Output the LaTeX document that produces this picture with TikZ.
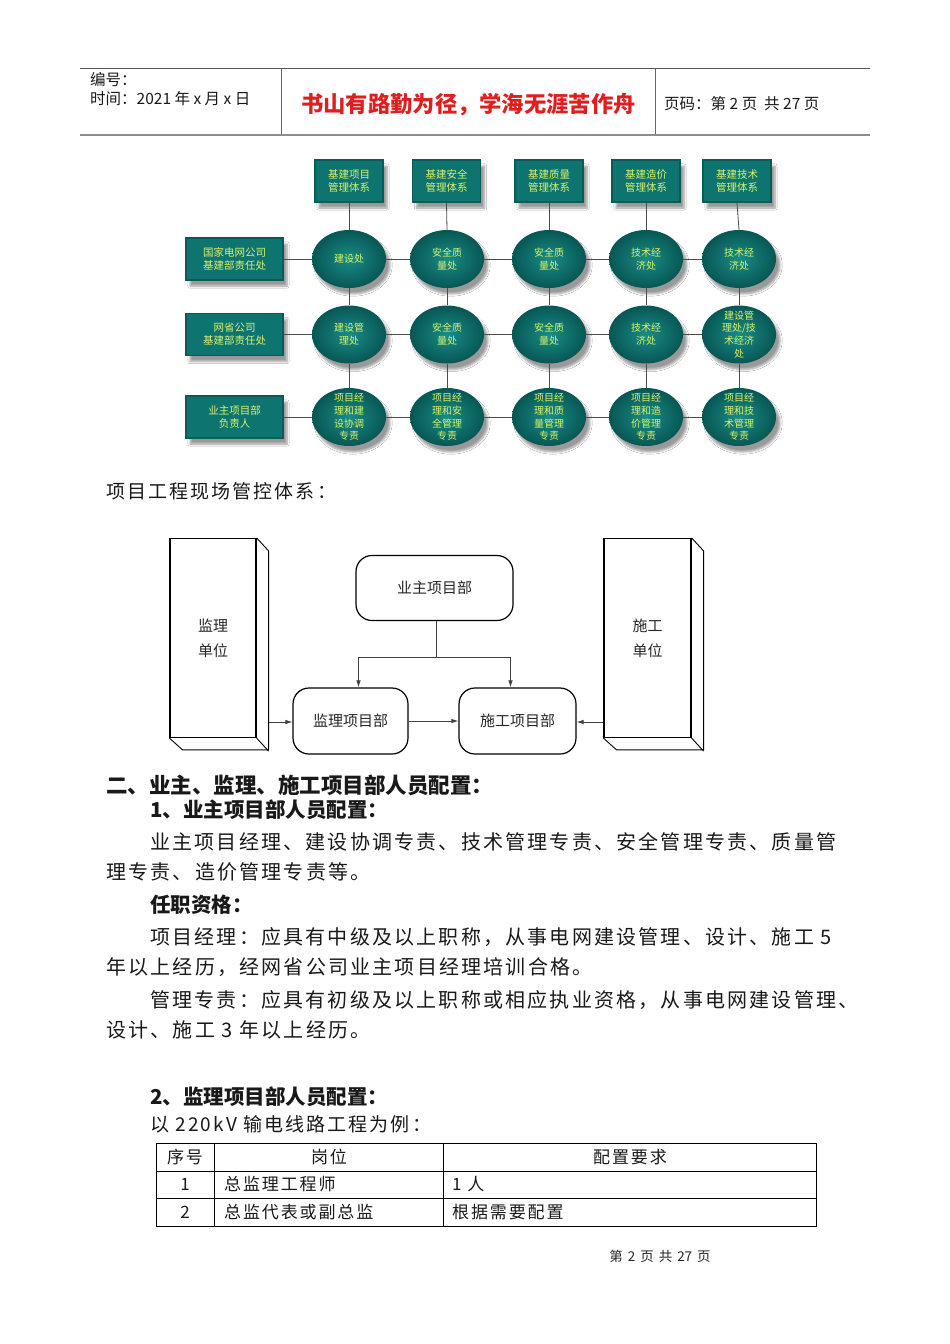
\documentclass[tikz,border=0pt]{standalone}
\usepackage{fontspec}
\setmainfont{Noto Sans CJK SC}
\newfontfamily\spc[LetterSpace=11]{Noto Sans CJK SC}
\usetikzlibrary{shapes.geometric,arrows.meta,shadows.blur,calc}
\definecolor{tealA}{HTML}{0E7470}
\definecolor{tealB}{HTML}{0A5A57}
\definecolor{tealC}{HTML}{1A8C86}
\definecolor{tealD}{HTML}{075754}
\definecolor{ylw}{HTML}{D9F36A}
\definecolor{slogan}{HTML}{E01E1E}
\newcommand\myfs[2]{\fontsize{#1}{#2}\selectfont}
\tikzset{
  shd/.style={blur shadow={shadow xshift=4pt, shadow yshift=-6pt, shadow blur steps=6, shadow opacity=40}},
  tealbox/.style={rectangle, fill=tealA, draw=tealB, line width=1.5pt, text=ylw, align=center,
    font=\myfs{10.5}{13}, minimum width=68pt, minimum height=42pt, inner sep=1pt, shd},
  leftbox/.style={tealbox, minimum width=97pt},
  ball/.style={ellipse, minimum width=74pt, minimum height=58pt, inner sep=0pt, shading=radial,
    inner color=tealC, outer color=tealD, shd},
  balltext/.style={text=ylw, align=center, font=\myfs{10}{12.8}, inner sep=0pt},
  conn/.style={draw=black!70, line width=0.8pt},
  rbox/.style={draw=black, line width=1.2pt, rounded corners=16pt, font=\myfs{15}{15}, text=black!85},
  box3d/.style={draw=black, line width=1.2pt, minimum width=86pt, minimum height=199pt,
    align=center, font=\myfs{15}{25}, text=black!85, inner sep=0pt},
  line3d/.style={draw=black, line width=0.9pt},
  arr/.style={draw=black!75, line width=0.8pt, -{Latex[length=7pt,width=4.5pt]}},
  txt/.style={anchor=west, inner sep=0pt, text=black!90},
  body/.style={txt, font=\spc\myfs{20}{20}},
  head/.style={txt, font=\bfseries\myfs{20.5}{20.5}},
  cell/.style={inner sep=0pt, text=black!90, font=\spc\myfs{17}{17}},
}
\begin{document}
\begin{tikzpicture}[x=1pt,y=-1pt]
\useasboundingbox[fill=white] (0,0) rectangle (950,1344);

% ---------- header ----------
\draw[black!65, line width=0.8pt] (80,68.5) -- (870,68.5);
\draw[black!45, line width=2pt] (80,135) -- (870,135);
\draw[black!60, line width=0.8pt] (281.5,68.5) -- (281.5,134);
\draw[black!60, line width=0.8pt] (655,68.5) -- (655,134);
\node[txt, font=\myfs{15.5}{15.5}] (hno) at (90,80) {编号：};
\node[txt, font=\myfs{15.5}{15.5}] (htime) at (90,98.5) {时间：2021 年 x 月 x 日};
\node[inner sep=0pt, text=slogan, font=\bfseries\myfs{22.3}{22.3}] (hslog) at (468.5,105) {书山有路勤为径，学海无涯苦作舟};
\node[txt, font=\myfs{15.5}{15.5}] (hpage) at (664,103.5) {页码：第 2 页\ \ 共 27 页};

% ---------- top teal diagram ----------
\foreach \x/\n/\t in {349/t1/{基建项目\\管理体系},446.5/t2/{基建安全\\管理体系},549/t3/{基建质量\\管理体系},646/t4/{基建造价\\管理体系},737/t5/{基建技术\\管理体系}}
  \node[tealbox] (\n) at (\x,181) {\t};
\node[leftbox] (l1) at (234.5,259) {国家电网公司\\基建部责任处};
\node[leftbox] (l2) at (234.5,334.5) {网省公司\\基建部责任处};
\node[leftbox] (l3) at (234.5,417) {业主项目部\\负责人};

\foreach \x/\n/\t in {349/a1/{建设处},447/a2/{安全质\\量处},549/a3/{安全质\\量处},646/a4/{技术经\\济处},739/a5/{技术经\\济处}}
  \node[ball, label={[balltext]center:\t}] (\n) at (\x,259) {};
\foreach \x/\n/\t in {349/b1/{建设管\\理处},447/b2/{安全质\\量处},549/b3/{安全质\\量处},646/b4/{技术经\\济处},739/b5/{建设管\\理处/技\\术经济\\处}}
  \node[ball, label={[balltext]center:\t}] (\n) at (\x,334.5) {};
\foreach \x/\n/\t in {349/c1/{项目经\\理和建\\设协调\\专责},447/c2/{项目经\\理和安\\全管理\\专责},549/c3/{项目经\\理和质\\量管理\\专责},646/c4/{项目经\\理和造\\价管理\\专责},739/c5/{项目经\\理和技\\术管理\\专责}}
  \node[ball, label={[balltext]center:\t}] (\n) at (\x,417) {};

\foreach \i in {1,...,5} {
  \draw[conn] (t\i.south) -- (a\i.north);
  \draw[conn] (a\i.south) -- (b\i.north);
  \draw[conn] (b\i.south) -- (c\i.north);
}
\foreach \r/\k in {a/1,b/2,c/3} {
  \draw[conn] (l\k.east) -- (\r1.west);
  \draw[conn] (\r1.east) -- (\r2.west);
  \draw[conn] (\r2.east) -- (\r3.west);
  \draw[conn] (\r3.east) -- (\r4.west);
  \draw[conn] (\r4.east) -- (\r5.west);
}

\node[body, font=\spc\myfs{19}{19}] (cap1) at (106,491) {项目工程现场管控体系：};

% ---------- second diagram ----------
\node[box3d] (jlu) at (213,638) {监理\\单位};
\draw[line3d] (jlu.north east) -- ++(12,13) -- ++(0,199) -- ++(-86,0) -- (jlu.south west);
\draw[line3d] (jlu.south east) -- ++(12,13);
\node[box3d, minimum width=87pt] (sgu) at (647.5,638) {施工\\单位};
\draw[line3d] (sgu.north east) -- ++(12,13) -- ++(0,199) -- ++(-87,0) -- (sgu.south west);
\draw[line3d] (sgu.south east) -- ++(12,13);

\node[rbox, minimum width=157pt, minimum height=65pt] (yz) at (434.5,588) {业主项目部};
\node[rbox, minimum width=115pt, minimum height=66pt] (jl) at (350.5,721) {监理项目部};
\node[rbox, minimum width=117pt, minimum height=66pt] (sg) at (517.5,721) {施工项目部};

\coordinate (j) at (436,657);
\coordinate (jlside) at (269,722);
\draw[conn, draw=black!75] (yz.south -| j) -- (j);
\draw[arr] (j) -| ([xshift=8pt]jl.north);
\draw[arr] (j) -| ([xshift=-7pt]sg.north);
\draw[arr] (jlside) -- (jl.west |- jlside);
\draw[arr] (jl.east) -- (sg.west);
\draw[arr] (sgu.west |- jlside) -- (sg.east |- jlside);

% ---------- text ----------
\node[head, font=\bfseries\myfs{21.5}{21.5}] (h2) at (106,785) {二、业主、监理、施工项目部人员配置：};
\node[head] (h21) at (150,810) {1、业主项目部人员配置：};
\node[body] (p1) at (150,842) {业主项目经理、建设协调专责、技术管理专责、安全管理专责、质量管};
\node[body] (p2) at (106,872) {理专责、造价管理专责等。};
\node[head] (h22) at (150,905) {任职资格：};
\node[body] (p3) at (150,937) {项目经理：应具有中级及以上职称，从事电网建设管理、设计、施工 5};
\node[body] (p4) at (106,967) {年以上经历，经网省公司业主项目经理培训合格。};
\node[body] (p5) at (150,1000) {管理专责：应具有初级及以上职称或相应执业资格，从事电网建设管理、};
\node[body] (p6) at (106,1030) {设计、施工 3 年以上经历。};
\node[head] (h23) at (150,1097) {2、监理项目部人员配置：};
\node[body, font=\spc\myfs{19}{19}] (p7) at (150,1124) {以 220kV 输电线路工程为例：};

% ---------- table ----------
\draw[black, line width=0.8pt] (156.5,1143.5) rectangle (816.5,1226);
\draw[black, line width=0.8pt] (156.5,1171) -- (816.5,1171);
\draw[black, line width=0.8pt] (156.5,1198.5) -- (816.5,1198.5);
\draw[black, line width=0.8pt] (214,1143.5) -- (214,1226);
\draw[black, line width=0.8pt] (443.5,1143.5) -- (443.5,1226);
\node[cell] (c11) at (185,1157) {序号};
\node[cell] (c12) at (329,1157) {岗位};
\node[cell] (c13) at (630,1157) {配置要求};
\node[cell] (c21) at (185,1184.5) {1};
\node[cell, anchor=west] (c22) at (224,1184.5) {总监理工程师};
\node[cell, anchor=west] (c23) at (452,1184.5) {1 人};
\node[cell] (c31) at (185,1212) {2};
\node[cell, anchor=west] (c32) at (224,1212) {总监代表或副总监};
\node[cell, anchor=west] (c33) at (452,1212) {根据需要配置};

\node[inner sep=0pt, font=\myfs{13.5}{13.5}, text=black!85] (foot) at (660,1256) {第\hspace{5pt}2\hspace{5pt}页\hspace{5pt}共\hspace{5pt}27\hspace{5pt}页};
\end{tikzpicture}
\end{document}
